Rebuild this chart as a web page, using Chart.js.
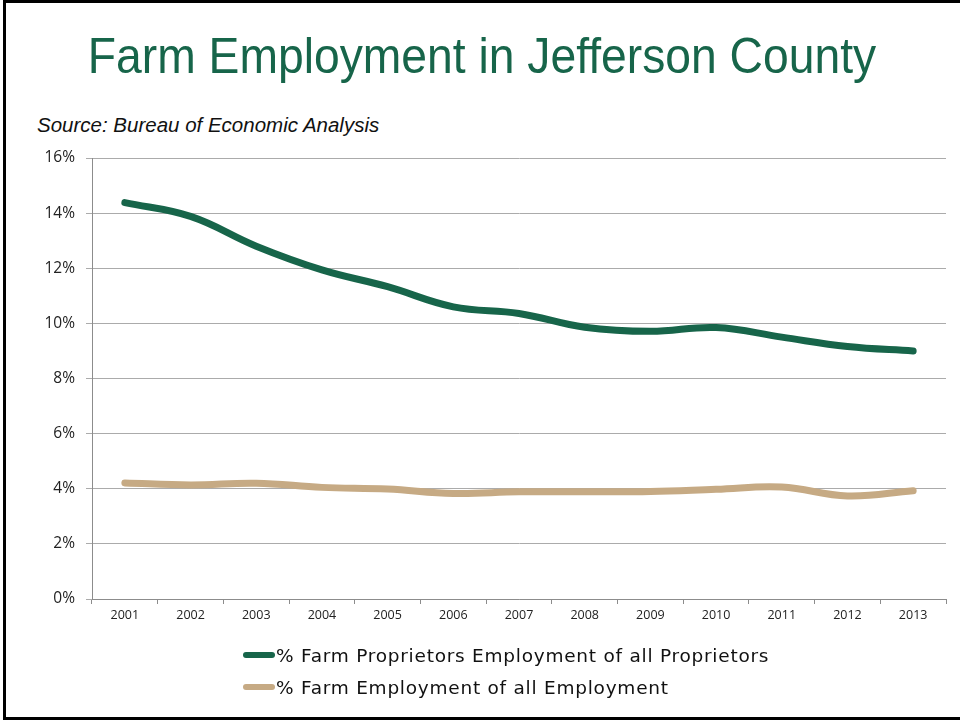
<!DOCTYPE html>
<html>
<head>
<meta charset="utf-8">
<script src="https://cdn.jsdelivr.net/npm/chart.js@4.4.1/dist/chart.umd.min.js"></script>
<style>
  html, body { margin: 0; padding: 0; background: #fff; }
  body { width: 960px; height: 721px; position: relative; overflow: hidden; }
  #frame {
    position: absolute; left: 3px; top: 0; width: 970px; height: 714px;
    border-top: 3px solid #000; border-left: 3px solid #000; border-bottom: 3px solid #000;
  }
  #title {
    position: absolute; left: 0; width: 964px; top: 26px; text-align: center;
    font-family: "Liberation Sans", Arial, sans-serif;
    font-size: 50px; color: #17654a; white-space: nowrap; line-height: 60px;
    transform: scaleX(0.925); transform-origin: 482px 0;
  }
  #source {
    position: absolute; left: 37px; top: 112px;
    font-family: "Liberation Sans", Arial, sans-serif;
    font-style: italic; font-size: 20.5px; color: #111; white-space: nowrap; line-height: 26px;
  }
  #chart { position: absolute; left: 0; top: 0; }
  #legend { position: absolute; left: 243px; top: 639px; font-family: "DejaVu Sans", sans-serif; font-size: 18.5px; letter-spacing: 0.75px; color: #111; }
  .item { display: flex; align-items: center; height: 32px; white-space: nowrap; }
  .swatch { width: 32px; height: 6px; border-radius: 3px; margin-right: 1px; }
</style>
</head>
<body>
<div id="frame"></div>
<div id="title">Farm Employment in Jefferson County</div>
<div id="source">Source: Bureau of Economic Analysis</div>
<canvas id="chart" width="960" height="721"></canvas>
<div id="legend"></div>
<script>
// Farm employment shares, Jefferson County, 2001–2013 (percent)
const years = ['2001','2002','2003','2004','2005','2006','2007','2008','2009','2010','2011','2012','2013'];
const proprietorsShare = [14.38, 13.88, 12.8, 11.94, 11.33, 10.6, 10.36, 9.86, 9.71, 9.85, 9.5, 9.16, 9.0];
const employmentShare  = [4.21, 4.14, 4.2, 4.05, 3.99, 3.83, 3.89, 3.89, 3.9, 3.98, 4.06, 3.74, 3.93];
const seriesNames = ['% Farm Proprietors Employment of all Proprietors', '% Farm Employment of all Employment'];
const seriesColors = ['#17654a', '#c6aa84'];

const axisFont = { family: '"Open Sans", sans-serif' };

const chart = new Chart(document.getElementById('chart'), {
  type: 'line',
  data: {
    labels: years,
    datasets: [
      { label: seriesNames[0], data: proprietorsShare, borderColor: seriesColors[0], backgroundColor: seriesColors[0] },
      { label: seriesNames[1], data: employmentShare, borderColor: seriesColors[1], backgroundColor: seriesColors[1] }
    ].map(d => Object.assign(d, { borderWidth: 7, tension: 0.4, pointRadius: 0, borderCapStyle: 'round', borderJoinStyle: 'round', fill: false }))
  },
  options: {
    responsive: false,
    animation: false,
    events: [],
    layout: { padding: { left: 0, top: 158, right: 14, bottom: 0 } },
    plugins: { legend: { display: false }, tooltip: { enabled: false } },
    scales: {
      x: {
        type: 'category',
        offset: true,
        grid: { offset: true, drawOnChartArea: false, drawTicks: true, tickLength: 5, color: '#8c8c8c' },
        border: { display: true, color: '#8c8c8c', width: 1 },
        ticks: { color: '#222', font: Object.assign({ size: 12.5 }, axisFont), padding: 4, maxRotation: 0, autoSkip: false },
        afterFit: s => { s.height = 721 - 599; }
      },
      y: {
        min: 0, max: 16,
        ticks: { stepSize: 2, color: '#222', font: Object.assign({ size: 15.5 }, axisFont), padding: 11, callback: v => v + '%' },
        grid: { color: '#ababab', tickLength: 6, drawTicks: true },
        border: { display: true, color: '#8c8c8c', width: 1 },
        afterFit: s => { s.width = 92; }
      }
    }
  }
});

// legend built from the chart's datasets
const legend = document.getElementById('legend');
chart.data.datasets.forEach(ds => {
  const row = document.createElement('div');
  row.className = 'item';
  const sw = document.createElement('span');
  sw.className = 'swatch';
  sw.style.background = ds.borderColor;
  const txt = document.createElement('span');
  txt.textContent = ds.label;
  row.appendChild(sw);
  row.appendChild(txt);
  legend.appendChild(row);
});
</script>
</body>
</html>
